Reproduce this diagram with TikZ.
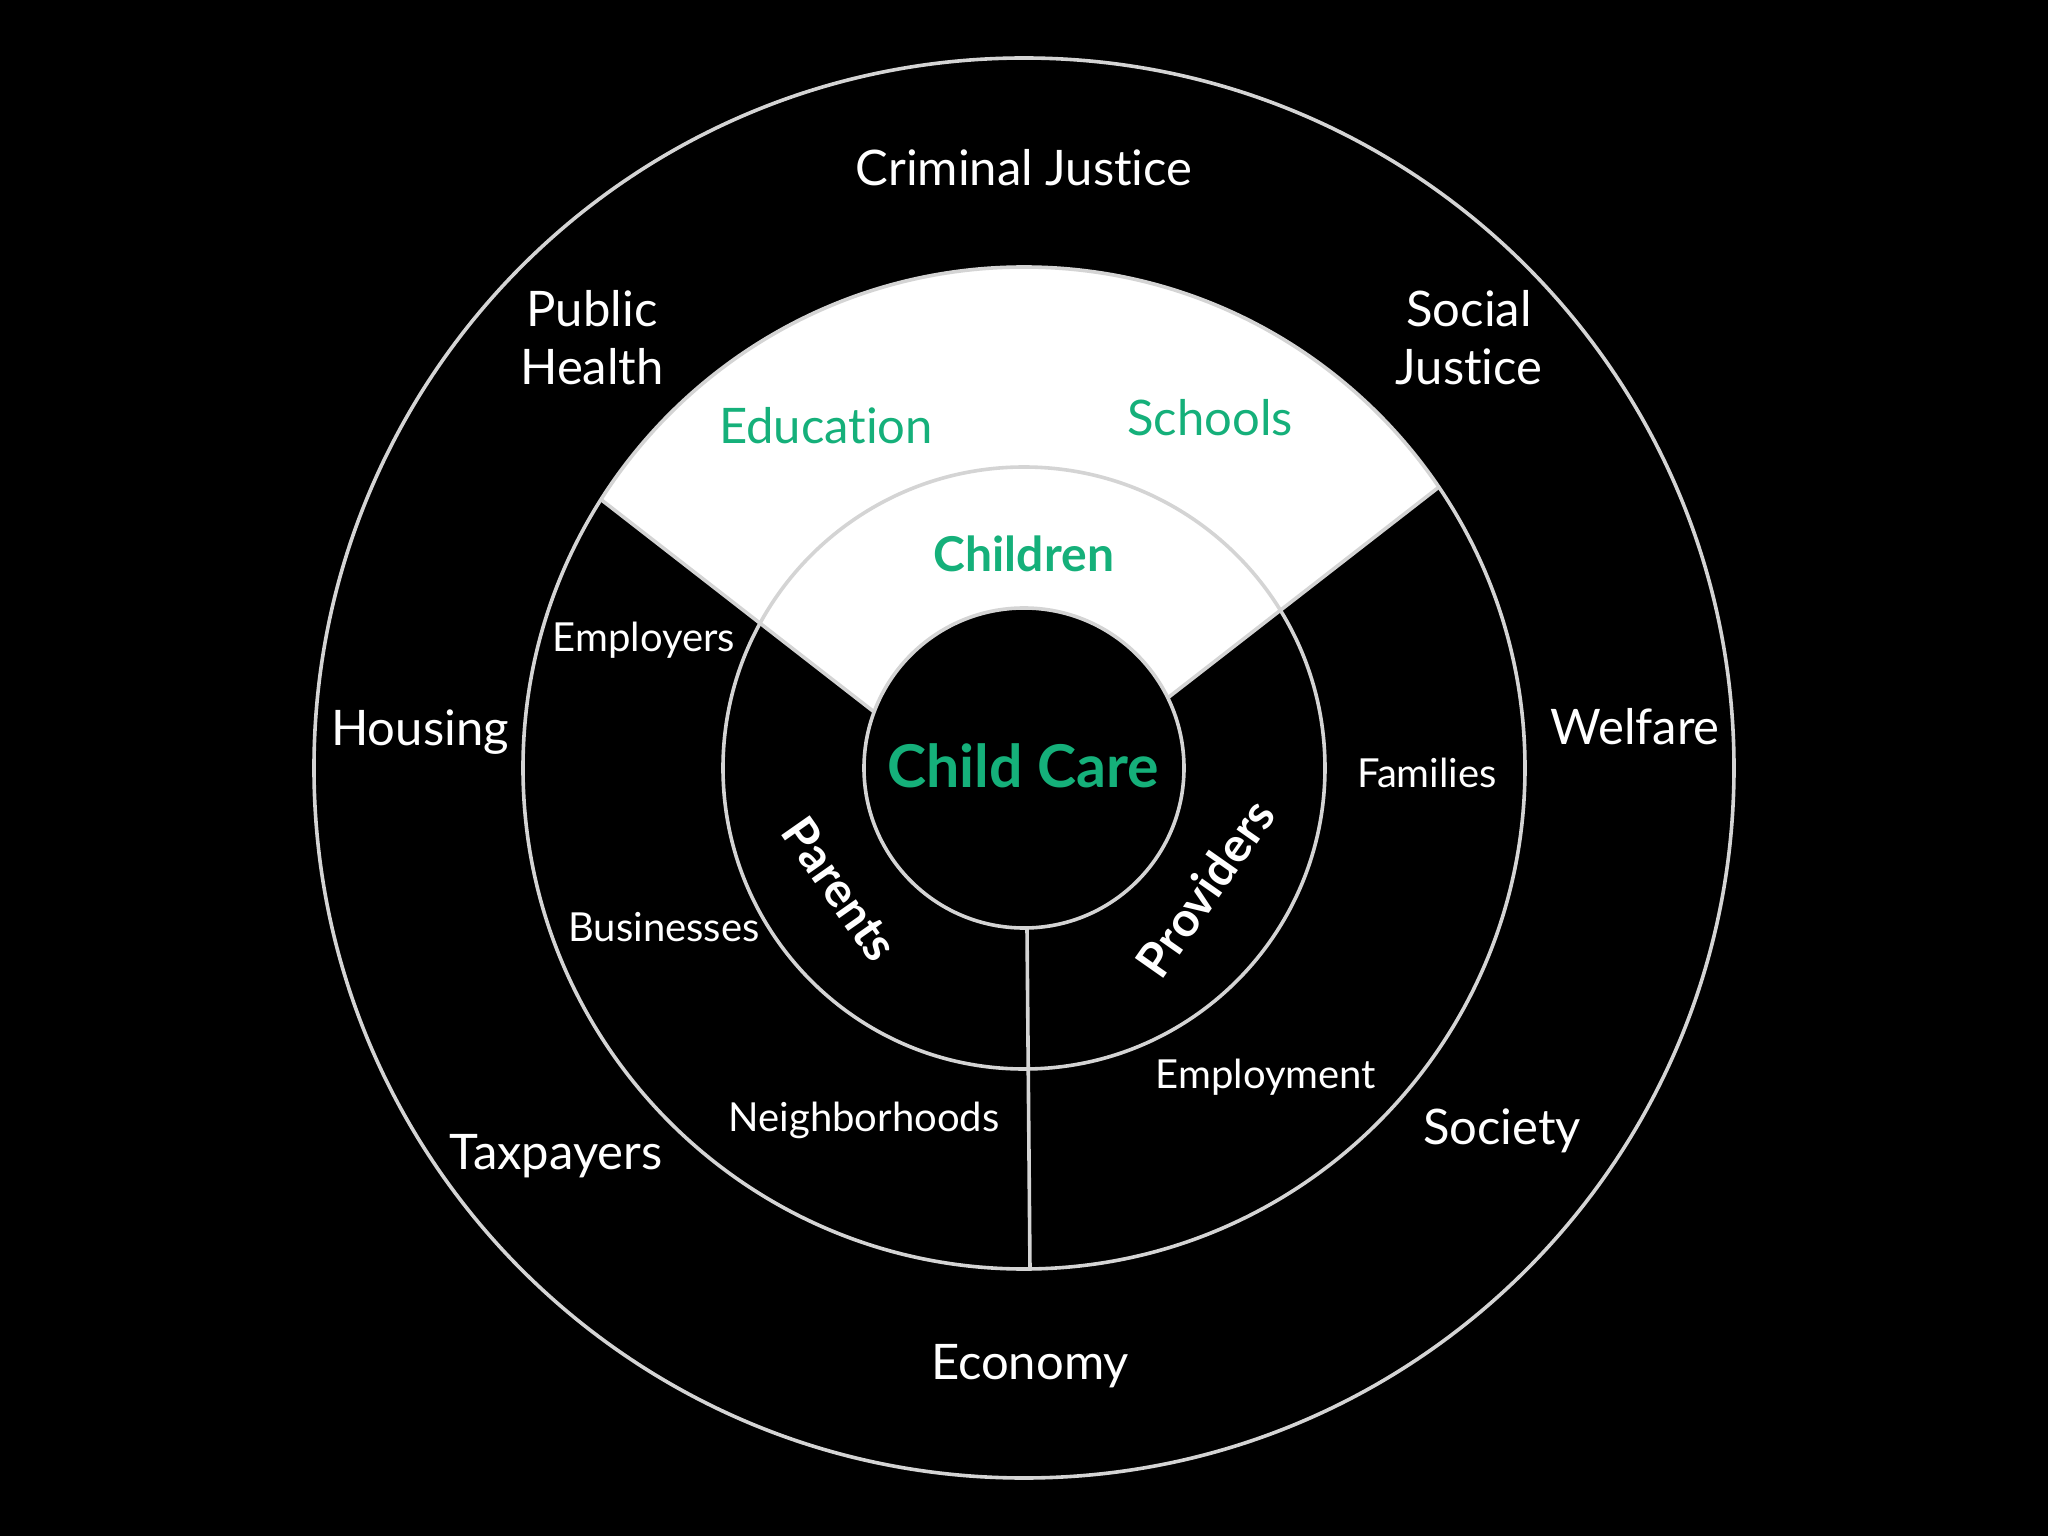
\documentclass[tikz,border=0pt]{standalone}
\usepackage{fontspec}
\setmainfont{Lato}[Ligatures={NoCommon,NoRare}]
\definecolor{ccgreen}{HTML}{15B07A}
\definecolor{ringgray}{HTML}{D4D4D4}
\newcommand{\nolig}{\kern0pt}
\tikzset{
  ring/.style={draw=ringgray, line width=1.8pt},
  outerlbl/.style={text=white, font=\fontsize{24.5}{29}\selectfont, anchor=base, inner sep=0pt},
  midlbl/.style={text=white, font=\fontsize{20}{24}\selectfont, anchor=base, inner sep=0pt},
  greenlbl/.style={text=ccgreen, font=\fontsize{24.5}{29}\selectfont, anchor=base, inner sep=0pt},
  boldgreen/.style={text=ccgreen, font=\bfseries\fontsize{24}{29}\selectfont, anchor=base, inner sep=0pt},
  bigbold/.style={text=ccgreen, font=\bfseries\fontsize{29.5}{34}\selectfont, anchor=base, inner sep=0pt},
  ringlbl/.style={text=white, font=\bfseries\fontsize{24}{28}\selectfont, inner sep=0pt},
}
\begin{document}
\begin{tikzpicture}[x=0.5pt,y=0.5pt]
\fill[black] (-1024,-768) rectangle (1024,768);
\useasboundingbox (-1024,-768) rectangle (1024,768);
% key points
\coordinate (A) at (34.1:501);
\coordinate (D) at (147.6:501);
\coordinate (C) at (159.5:160);
\coordinate (B) at (26:160);
\coordinate (vtop) at (3,-160);
\coordinate (vbot) at (6,-501);
% white sector
\fill[white] (A) arc[start angle=34.1, end angle=147.6, radius=501] -- (C)
  arc[start angle=159.5, end angle=26, radius=160] -- cycle;
% rings
\draw[ring] (0,0) circle[radius=710];
\draw[ring] (0,0) circle[radius=501];
\draw[ring] (0,0) circle[radius=301];
\draw[ring, fill=black] (0,0) circle[radius=160];
% dividers
\draw[ring] (D) -- (C);
\draw[ring] (A) -- (B);
\draw[ring] (vtop) -- (vbot);
% outer labels
\node[outerlbl] (crim) at (0,582) {Criminal Jus\nolig tice};
\node[outerlbl] (pub1) at (-432,441) {Public};
\node[outerlbl] (pub2) at (-432,383) {Health};
\node[outerlbl] (soc1) at (445,441) {Social};
\node[outerlbl] (soc2) at (445,383) {Jus\nolig tice};
\node[outerlbl] (hous) at (-604,23) {Housing};
\node[outerlbl] (welf) at (611,24) {Welfare};
\node[outerlbl] (tax) at (-468,-401) {Taxpayers};
\node[outerlbl] (socy) at (478,-376) {Society};
\node[outerlbl] (econ) at (6,-611) {Economy};
% middle labels
\node[midlbl] (empl) at (-380,116) {Employers};
\node[midlbl] (fam) at (403,-19) {Families};
\node[midlbl] (bus) at (-360,-173) {Businesses};
\node[midlbl] (neigh) at (-160,-363) {Neighborhoods};
\node[midlbl] (emplm) at (242,-320) {Employment};
% green labels
\node[greenlbl] (edu) at (-198,324) {Education};
\node[greenlbl] (sch) at (186,332) {Schools};
\node[boldgreen] (chil) at (0,196) {Children};
\node[bigbold] (cc) at (-1,-19) {Child Care};
% ring labels
\node[ringlbl, rotate=-55] (par) at (-184,-121) {Parents};
\node[ringlbl, rotate=55] (prov) at (181,-120) {Providers};
\end{tikzpicture}
\end{document}
